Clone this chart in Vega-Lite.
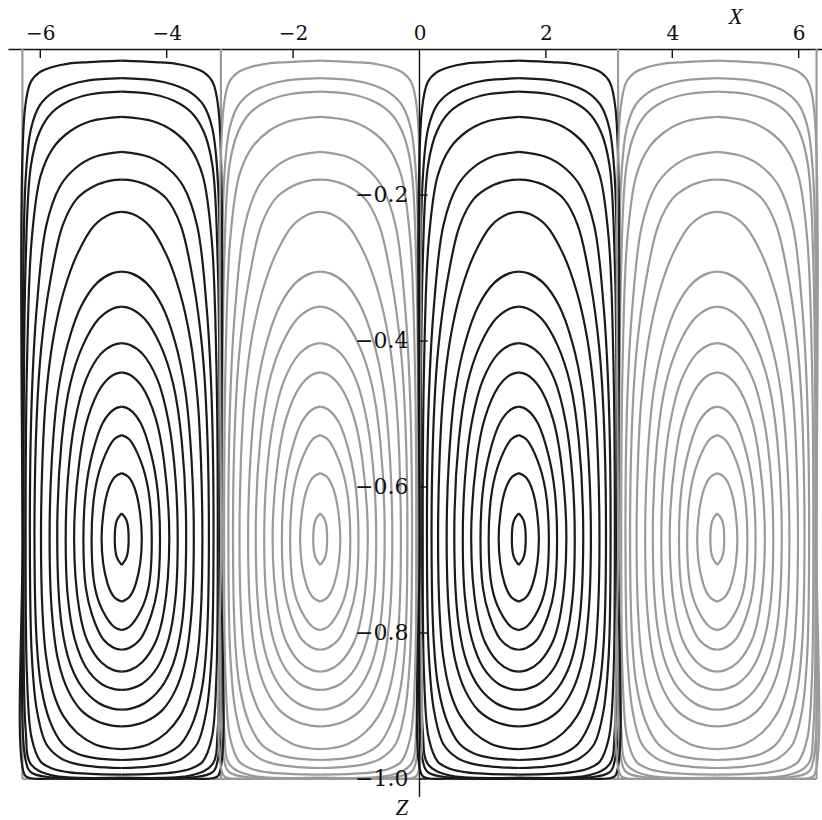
{
"$schema": "https://vega.github.io/schema/vega-lite/v6.json",
"width": 814, "height": 748,
"autosize": {"type": "none"},
"padding": {"left": 8, "top": 49, "right": 0, "bottom": 23},
"config": {"view": {"stroke": null}, "axis": {"grid": false}},
"layer": [
{
"data": {"values": [
{"x":-6.283,"x2":-6.283,"z":0,"z2":-1},
{"x":-3.142,"x2":-3.142,"z":0,"z2":-1},
{"x":3.142,"x2":3.142,"z":0,"z2":-1},
{"x":6.283,"x2":6.283,"z":0,"z2":-1},
{"x":-6.283,"x2":6.283,"z":-1,"z2":-1}
]},
"mark": {"type": "rule", "color": "#9a9a9a", "strokeWidth": 2.2},
"encoding": {
"x": {"field": "x", "type": "quantitative", "scale": {"domain": [-6.511, 6.369], "nice": false, "zero": false}, "title": null},
"x2": {"field": "x2"},
"y": {"field": "z", "type": "quantitative", "scale": {"domain": [-1.0247, 0], "nice": false, "zero": false}, "axis": null, "title": null},
"y2": {"field": "z2"}
}
},
{
"data": {"values": [
{"k":1,"o":0,"z":-0.636,"al":-4.712,"ar":-4.712,"bl":-1.571,"br":-1.571,"cl":1.571,"cr":1.571,"dl":4.712,"dr":4.712},
{"k":1,"o":1,"z":-0.646,"al":-4.79,"ar":-4.634,"bl":-1.649,"br":-1.493,"cl":1.493,"cr":1.649,"dl":4.634,"dr":4.79},
{"k":1,"o":2,"z":-0.671,"al":-4.822,"ar":-4.602,"bl":-1.681,"br":-1.461,"cl":1.461,"cr":1.681,"dl":4.602,"dr":4.822},
{"k":1,"o":3,"z":-0.696,"al":-4.79,"ar":-4.634,"bl":-1.649,"br":-1.493,"cl":1.493,"cr":1.649,"dl":4.634,"dr":4.79},
{"k":1,"o":4,"z":-0.707,"al":-4.712,"ar":-4.712,"bl":-1.571,"br":-1.571,"cl":1.571,"cr":1.571,"dl":4.712,"dr":4.712},

{"k":2,"o":0,"z":-0.581,"al":-4.712,"ar":-4.712,"bl":-1.571,"br":-1.571,"cl":1.571,"cr":1.571,"dl":4.712,"dr":4.712},
{"k":2,"o":0.5,"z":-0.5864,"al":-4.821,"ar":-4.603,"bl":-1.68,"br":-1.462,"cl":1.462,"cr":1.68,"dl":4.603,"dr":4.821},
{"k":2,"o":1,"z":-0.607,"al":-4.937,"ar":-4.487,"bl":-1.796,"br":-1.346,"cl":1.346,"cr":1.796,"dl":4.487,"dr":4.937},
{"k":2,"o":2,"z":-0.671,"al":-5.03,"ar":-4.394,"bl":-1.889,"br":-1.253,"cl":1.253,"cr":1.889,"dl":4.394,"dr":5.03},
{"k":2,"o":3,"z":-0.732,"al":-4.937,"ar":-4.487,"bl":-1.796,"br":-1.346,"cl":1.346,"cr":1.796,"dl":4.487,"dr":4.937},
{"k":2,"o":3.5,"z":-0.7518,"al":-4.821,"ar":-4.603,"bl":-1.68,"br":-1.462,"cl":1.462,"cr":1.68,"dl":4.603,"dr":4.821},
{"k":2,"o":4,"z":-0.757,"al":-4.712,"ar":-4.712,"bl":-1.571,"br":-1.571,"cl":1.571,"cr":1.571,"dl":4.712,"dr":4.712},

{"k":3,"o":0,"z":-0.529,"al":-4.712,"ar":-4.712,"bl":-1.571,"br":-1.571,"cl":1.571,"cr":1.571,"dl":4.712,"dr":4.712},
{"k":3,"o":0.5,"z":-0.5346,"al":-4.831,"ar":-4.593,"bl":-1.69,"br":-1.452,"cl":1.452,"cr":1.69,"dl":4.593,"dr":4.831},
{"k":3,"o":1,"z":-0.564,"al":-5.01,"ar":-4.414,"bl":-1.869,"br":-1.273,"cl":1.273,"cr":1.869,"dl":4.414,"dr":5.01},
{"k":3,"o":2,"z":-0.605,"al":-5.135,"ar":-4.289,"bl":-1.994,"br":-1.148,"cl":1.148,"cr":1.994,"dl":4.289,"dr":5.135},
{"k":3,"o":3,"z":-0.671,"al":-5.188,"ar":-4.236,"bl":-2.047,"br":-1.095,"cl":1.095,"cr":2.047,"dl":4.236,"dr":5.188},
{"k":3,"o":4,"z":-0.738,"al":-5.135,"ar":-4.289,"bl":-1.994,"br":-1.148,"cl":1.148,"cr":1.994,"dl":4.289,"dr":5.135},
{"k":3,"o":5,"z":-0.770,"al":-5.01,"ar":-4.414,"bl":-1.869,"br":-1.273,"cl":1.273,"cr":1.869,"dl":4.414,"dr":5.01},
{"k":3,"o":5.5,"z":-0.7918,"al":-4.831,"ar":-4.593,"bl":-1.69,"br":-1.452,"cl":1.452,"cr":1.69,"dl":4.593,"dr":4.831},
{"k":3,"o":6,"z":-0.796,"al":-4.712,"ar":-4.712,"bl":-1.571,"br":-1.571,"cl":1.571,"cr":1.571,"dl":4.712,"dr":4.712},

{"k":4,"o":0,"z":-0.490,"al":-4.712,"ar":-4.712,"bl":-1.571,"br":-1.571,"cl":1.571,"cr":1.571,"dl":4.712,"dr":4.712},
{"k":4,"o":0.5,"z":-0.4935,"al":-4.831,"ar":-4.593,"bl":-1.69,"br":-1.452,"cl":1.452,"cr":1.69,"dl":4.593,"dr":4.831},
{"k":4,"o":1,"z":-0.512,"al":-5.01,"ar":-4.414,"bl":-1.869,"br":-1.273,"cl":1.273,"cr":1.869,"dl":4.414,"dr":5.01},
{"k":4,"o":2,"z":-0.555,"al":-5.178,"ar":-4.246,"bl":-2.037,"br":-1.105,"cl":1.105,"cr":2.037,"dl":4.246,"dr":5.178},
{"k":4,"o":3,"z":-0.605,"al":-5.28,"ar":-4.144,"bl":-2.139,"br":-1.003,"cl":1.003,"cr":2.139,"dl":4.144,"dr":5.28},
{"k":4,"o":4,"z":-0.671,"al":-5.318,"ar":-4.106,"bl":-2.177,"br":-0.965,"cl":0.965,"cr":2.177,"dl":4.106,"dr":5.318},
{"k":4,"o":5,"z":-0.738,"al":-5.28,"ar":-4.144,"bl":-2.139,"br":-1.003,"cl":1.003,"cr":2.139,"dl":4.144,"dr":5.28},
{"k":4,"o":6,"z":-0.776,"al":-5.178,"ar":-4.246,"bl":-2.037,"br":-1.105,"cl":1.105,"cr":2.037,"dl":4.246,"dr":5.178},
{"k":4,"o":7,"z":-0.808,"al":-5.01,"ar":-4.414,"bl":-1.869,"br":-1.273,"cl":1.273,"cr":1.869,"dl":4.414,"dr":5.01},
{"k":4,"o":7.5,"z":-0.8206,"al":-4.831,"ar":-4.593,"bl":-1.69,"br":-1.452,"cl":1.452,"cr":1.69,"dl":4.593,"dr":4.831},
{"k":4,"o":8,"z":-0.823,"al":-4.712,"ar":-4.712,"bl":-1.571,"br":-1.571,"cl":1.571,"cr":1.571,"dl":4.712,"dr":4.712},

{"k":5,"o":0,"z":-0.443,"al":-4.712,"ar":-4.712,"bl":-1.571,"br":-1.571,"cl":1.571,"cr":1.571,"dl":4.712,"dr":4.712},
{"k":5,"o":0.5,"z":-0.4462,"al":-4.842,"ar":-4.582,"bl":-1.701,"br":-1.441,"cl":1.441,"cr":1.701,"dl":4.582,"dr":4.842},
{"k":5,"o":1,"z":-0.463,"al":-5.036,"ar":-4.388,"bl":-1.895,"br":-1.247,"cl":1.247,"cr":1.895,"dl":4.388,"dr":5.036},
{"k":5,"o":2,"z":-0.506,"al":-5.25,"ar":-4.174,"bl":-2.109,"br":-1.033,"cl":1.033,"cr":2.109,"dl":4.174,"dr":5.25},
{"k":5,"o":3,"z":-0.564,"al":-5.38,"ar":-4.044,"bl":-2.239,"br":-0.903,"cl":0.903,"cr":2.239,"dl":4.044,"dr":5.38},
{"k":5,"o":4,"z":-0.671,"al":-5.465,"ar":-3.959,"bl":-2.324,"br":-0.818,"cl":0.818,"cr":2.324,"dl":3.959,"dr":5.465},
{"k":5,"o":5,"z":-0.770,"al":-5.38,"ar":-4.044,"bl":-2.239,"br":-0.903,"cl":0.903,"cr":2.239,"dl":4.044,"dr":5.38},
{"k":5,"o":6,"z":-0.812,"al":-5.25,"ar":-4.174,"bl":-2.109,"br":-1.033,"cl":1.033,"cr":2.109,"dl":4.174,"dr":5.25},
{"k":5,"o":7,"z":-0.840,"al":-5.036,"ar":-4.388,"bl":-1.895,"br":-1.247,"cl":1.247,"cr":1.895,"dl":4.388,"dr":5.036},
{"k":5,"o":7.5,"z":-0.8509,"al":-4.842,"ar":-4.582,"bl":-1.701,"br":-1.441,"cl":1.441,"cr":1.701,"dl":4.582,"dr":4.842},
{"k":5,"o":8,"z":-0.853,"al":-4.712,"ar":-4.712,"bl":-1.571,"br":-1.571,"cl":1.571,"cr":1.571,"dl":4.712,"dr":4.712},

{"k":6,"o":0,"z":-0.403,"al":-4.712,"ar":-4.712,"bl":-1.571,"br":-1.571,"cl":1.571,"cr":1.571,"dl":4.712,"dr":4.712},
{"k":6,"o":0.5,"z":-0.4054,"al":-4.846,"ar":-4.578,"bl":-1.705,"br":-1.437,"cl":1.437,"cr":1.705,"dl":4.578,"dr":4.846},
{"k":6,"o":1,"z":-0.418,"al":-5.046,"ar":-4.378,"bl":-1.905,"br":-1.237,"cl":1.237,"cr":1.905,"dl":4.378,"dr":5.046},
{"k":6,"o":2,"z":-0.453,"al":-5.278,"ar":-4.146,"bl":-2.137,"br":-1.005,"cl":1.005,"cr":2.137,"dl":4.146,"dr":5.278},
{"k":6,"o":3,"z":-0.512,"al":-5.457,"ar":-3.967,"bl":-2.316,"br":-0.826,"cl":0.826,"cr":2.316,"dl":3.967,"dr":5.457},
{"k":6,"o":4,"z":-0.588,"al":-5.563,"ar":-3.861,"bl":-2.422,"br":-0.72,"cl":0.72,"cr":2.422,"dl":3.861,"dr":5.563},
{"k":6,"o":5,"z":-0.671,"al":-5.598,"ar":-3.826,"bl":-2.457,"br":-0.685,"cl":0.685,"cr":2.457,"dl":3.826,"dr":5.598},
{"k":6,"o":6,"z":-0.752,"al":-5.563,"ar":-3.861,"bl":-2.422,"br":-0.72,"cl":0.72,"cr":2.422,"dl":3.861,"dr":5.563},
{"k":6,"o":7,"z":-0.808,"al":-5.457,"ar":-3.967,"bl":-2.316,"br":-0.826,"cl":0.826,"cr":2.316,"dl":3.967,"dr":5.457},
{"k":6,"o":8,"z":-0.847,"al":-5.278,"ar":-4.146,"bl":-2.137,"br":-1.005,"cl":1.005,"cr":2.137,"dl":4.146,"dr":5.278},
{"k":6,"o":9,"z":-0.869,"al":-5.046,"ar":-4.378,"bl":-1.905,"br":-1.237,"cl":1.237,"cr":1.905,"dl":4.378,"dr":5.046},
{"k":6,"o":9.5,"z":-0.8766,"al":-4.846,"ar":-4.578,"bl":-1.705,"br":-1.437,"cl":1.437,"cr":1.705,"dl":4.578,"dr":4.846},
{"k":6,"o":10,"z":-0.878,"al":-4.712,"ar":-4.712,"bl":-1.571,"br":-1.571,"cl":1.571,"cr":1.571,"dl":4.712,"dr":4.712},

{"k":7,"o":0,"z":-0.353,"al":-4.712,"ar":-4.712,"bl":-1.571,"br":-1.571,"cl":1.571,"cr":1.571,"dl":4.712,"dr":4.712},
{"k":7,"o":0.5,"z":-0.3557,"al":-4.858,"ar":-4.566,"bl":-1.717,"br":-1.425,"cl":1.425,"cr":1.717,"dl":4.566,"dr":4.858},
{"k":7,"o":1,"z":-0.370,"al":-5.078,"ar":-4.346,"bl":-1.937,"br":-1.205,"cl":1.205,"cr":1.937,"dl":4.346,"dr":5.078},
{"k":7,"o":2,"z":-0.406,"al":-5.326,"ar":-4.098,"bl":-2.185,"br":-0.957,"cl":0.957,"cr":2.185,"dl":4.098,"dr":5.326},
{"k":7,"o":3,"z":-0.458,"al":-5.524,"ar":-3.9,"bl":-2.383,"br":-0.759,"cl":0.759,"cr":2.383,"dl":3.9,"dr":5.524},
{"k":7,"o":4,"z":-0.538,"al":-5.663,"ar":-3.761,"bl":-2.522,"br":-0.62,"cl":0.62,"cr":2.522,"dl":3.761,"dr":5.663},
{"k":7,"o":5,"z":-0.671,"al":-5.732,"ar":-3.692,"bl":-2.591,"br":-0.551,"cl":0.551,"cr":2.591,"dl":3.692,"dr":5.732},
{"k":7,"o":6,"z":-0.789,"al":-5.663,"ar":-3.761,"bl":-2.522,"br":-0.62,"cl":0.62,"cr":2.522,"dl":3.761,"dr":5.663},
{"k":7,"o":7,"z":-0.843,"al":-5.524,"ar":-3.9,"bl":-2.383,"br":-0.759,"cl":0.759,"cr":2.383,"dl":3.9,"dr":5.524},
{"k":7,"o":8,"z":-0.876,"al":-5.326,"ar":-4.098,"bl":-2.185,"br":-0.957,"cl":0.957,"cr":2.185,"dl":4.098,"dr":5.326},
{"k":7,"o":9,"z":-0.896,"al":-5.078,"ar":-4.346,"bl":-1.937,"br":-1.205,"cl":1.205,"cr":1.937,"dl":4.346,"dr":5.078},
{"k":7,"o":9.5,"z":-0.9036,"al":-4.858,"ar":-4.566,"bl":-1.717,"br":-1.425,"cl":1.425,"cr":1.717,"dl":4.566,"dr":4.858},
{"k":7,"o":10,"z":-0.905,"al":-4.712,"ar":-4.712,"bl":-1.571,"br":-1.571,"cl":1.571,"cr":1.571,"dl":4.712,"dr":4.712},

{"k":8,"o":0,"z":-0.305,"al":-4.712,"ar":-4.712,"bl":-1.571,"br":-1.571,"cl":1.571,"cr":1.571,"dl":4.712,"dr":4.712},
{"k":8,"o":0.5,"z":-0.3074,"al":-4.866,"ar":-4.558,"bl":-1.725,"br":-1.417,"cl":1.417,"cr":1.725,"dl":4.558,"dr":4.866},
{"k":8,"o":1,"z":-0.320,"al":-5.097,"ar":-4.327,"bl":-1.956,"br":-1.186,"cl":1.186,"cr":1.956,"dl":4.327,"dr":5.097},
{"k":8,"o":2,"z":-0.352,"al":-5.352,"ar":-4.072,"bl":-2.211,"br":-0.931,"cl":0.931,"cr":2.211,"dl":4.072,"dr":5.352},
{"k":8,"o":3,"z":-0.402,"al":-5.559,"ar":-3.865,"bl":-2.418,"br":-0.724,"cl":0.724,"cr":2.418,"dl":3.865,"dr":5.559},
{"k":8,"o":4,"z":-0.469,"al":-5.719,"ar":-3.705,"bl":-2.578,"br":-0.564,"cl":0.564,"cr":2.578,"dl":3.705,"dr":5.719},
{"k":8,"o":5,"z":-0.564,"al":-5.818,"ar":-3.606,"bl":-2.677,"br":-0.465,"cl":0.465,"cr":2.677,"dl":3.606,"dr":5.818},
{"k":8,"o":6,"z":-0.671,"al":-5.853,"ar":-3.571,"bl":-2.712,"br":-0.43,"cl":0.43,"cr":2.712,"dl":3.571,"dr":5.853},
{"k":8,"o":7,"z":-0.770,"al":-5.818,"ar":-3.606,"bl":-2.677,"br":-0.465,"cl":0.465,"cr":2.677,"dl":3.606,"dr":5.818},
{"k":8,"o":8,"z":-0.837,"al":-5.719,"ar":-3.705,"bl":-2.578,"br":-0.564,"cl":0.564,"cr":2.578,"dl":3.705,"dr":5.719},
{"k":8,"o":9,"z":-0.879,"al":-5.559,"ar":-3.865,"bl":-2.418,"br":-0.724,"cl":0.724,"cr":2.418,"dl":3.865,"dr":5.559},
{"k":8,"o":10,"z":-0.906,"al":-5.352,"ar":-4.072,"bl":-2.211,"br":-0.931,"cl":0.931,"cr":2.211,"dl":4.072,"dr":5.352},
{"k":8,"o":11,"z":-0.921,"al":-5.097,"ar":-4.327,"bl":-1.956,"br":-1.186,"cl":1.186,"cr":1.956,"dl":4.327,"dr":5.097},
{"k":8,"o":11.5,"z":-0.9269,"al":-4.866,"ar":-4.558,"bl":-1.725,"br":-1.417,"cl":1.417,"cr":1.725,"dl":4.558,"dr":4.866},
{"k":8,"o":12,"z":-0.928,"al":-4.712,"ar":-4.712,"bl":-1.571,"br":-1.571,"cl":1.571,"cr":1.571,"dl":4.712,"dr":4.712},

{"k":9,"o":0,"z":-0.223,"al":-4.712,"ar":-4.712,"bl":-1.571,"br":-1.571,"cl":1.571,"cr":1.571,"dl":4.712,"dr":4.712},
{"k":9,"o":0.5,"z":-0.226,"al":-4.887,"ar":-4.537,"bl":-1.746,"br":-1.396,"cl":1.396,"cr":1.746,"dl":4.537,"dr":4.887},
{"k":9,"o":1,"z":-0.242,"al":-5.149,"ar":-4.275,"bl":-2.008,"br":-1.134,"cl":1.134,"cr":2.008,"dl":4.275,"dr":5.149},
{"k":9,"o":2,"z":-0.281,"al":-5.415,"ar":-4.009,"bl":-2.274,"br":-0.868,"cl":0.868,"cr":2.274,"dl":4.009,"dr":5.415},
{"k":9,"o":3,"z":-0.334,"al":-5.634,"ar":-3.79,"bl":-2.493,"br":-0.649,"cl":0.649,"cr":2.493,"dl":3.79,"dr":5.634},
{"k":9,"o":4,"z":-0.397,"al":-5.796,"ar":-3.628,"bl":-2.655,"br":-0.487,"cl":0.487,"cr":2.655,"dl":3.628,"dr":5.796},
{"k":9,"o":5,"z":-0.479,"al":-5.912,"ar":-3.512,"bl":-2.771,"br":-0.371,"cl":0.371,"cr":2.771,"dl":3.512,"dr":5.912},
{"k":9,"o":6,"z":-0.564,"al":-5.966,"ar":-3.458,"bl":-2.825,"br":-0.317,"cl":0.317,"cr":2.825,"dl":3.458,"dr":5.966},
{"k":9,"o":7,"z":-0.671,"al":-5.989,"ar":-3.435,"bl":-2.848,"br":-0.294,"cl":0.294,"cr":2.848,"dl":3.435,"dr":5.989},
{"k":9,"o":8,"z":-0.770,"al":-5.966,"ar":-3.458,"bl":-2.825,"br":-0.317,"cl":0.317,"cr":2.825,"dl":3.458,"dr":5.966},
{"k":9,"o":9,"z":-0.830,"al":-5.912,"ar":-3.512,"bl":-2.771,"br":-0.371,"cl":0.371,"cr":2.771,"dl":3.512,"dr":5.912},
{"k":9,"o":10,"z":-0.881,"al":-5.796,"ar":-3.628,"bl":-2.655,"br":-0.487,"cl":0.487,"cr":2.655,"dl":3.628,"dr":5.796},
{"k":9,"o":11,"z":-0.914,"al":-5.634,"ar":-3.79,"bl":-2.493,"br":-0.649,"cl":0.649,"cr":2.493,"dl":3.79,"dr":5.634},
{"k":9,"o":12,"z":-0.937,"al":-5.415,"ar":-4.009,"bl":-2.274,"br":-0.868,"cl":0.868,"cr":2.274,"dl":4.009,"dr":5.415},
{"k":9,"o":13,"z":-0.952,"al":-5.149,"ar":-4.275,"bl":-2.008,"br":-1.134,"cl":1.134,"cr":2.008,"dl":4.275,"dr":5.149},
{"k":9,"o":13.5,"z":-0.9579,"al":-4.887,"ar":-4.537,"bl":-1.746,"br":-1.396,"cl":1.396,"cr":1.746,"dl":4.537,"dr":4.887},
{"k":9,"o":14,"z":-0.959,"al":-4.712,"ar":-4.712,"bl":-1.571,"br":-1.571,"cl":1.571,"cr":1.571,"dl":4.712,"dr":4.712},

{"k":10,"o":0,"z":-0.179,"al":-4.712,"ar":-4.712,"bl":-1.571,"br":-1.571,"cl":1.571,"cr":1.571,"dl":4.712,"dr":4.712},
{"k":10,"o":0.5,"z":-0.1804,"al":-4.888,"ar":-4.536,"bl":-1.747,"br":-1.395,"cl":1.395,"cr":1.747,"dl":4.536,"dr":4.888},
{"k":10,"o":1,"z":-0.188,"al":-5.152,"ar":-4.272,"bl":-2.011,"br":-1.131,"cl":1.131,"cr":2.011,"dl":4.272,"dr":5.152},
{"k":10,"o":2,"z":-0.205,"al":-5.42,"ar":-4.004,"bl":-2.279,"br":-0.863,"cl":0.863,"cr":2.279,"dl":4.004,"dr":5.42},
{"k":10,"o":3,"z":-0.242,"al":-5.647,"ar":-3.777,"bl":-2.506,"br":-0.636,"cl":0.636,"cr":2.506,"dl":3.777,"dr":5.647},
{"k":10,"o":4,"z":-0.320,"al":-5.847,"ar":-3.577,"bl":-2.706,"br":-0.436,"cl":0.436,"cr":2.706,"dl":3.577,"dr":5.847},
{"k":10,"o":5,"z":-0.410,"al":-5.986,"ar":-3.438,"bl":-2.845,"br":-0.297,"cl":0.297,"cr":2.845,"dl":3.438,"dr":5.986},
{"k":10,"o":6,"z":-0.506,"al":-6.057,"ar":-3.367,"bl":-2.916,"br":-0.226,"cl":0.226,"cr":2.916,"dl":3.367,"dr":6.057},
{"k":10,"o":7,"z":-0.671,"al":-6.092,"ar":-3.332,"bl":-2.951,"br":-0.191,"cl":0.191,"cr":2.951,"dl":3.332,"dr":6.092},
{"k":10,"o":8,"z":-0.812,"al":-6.057,"ar":-3.367,"bl":-2.916,"br":-0.226,"cl":0.226,"cr":2.916,"dl":3.367,"dr":6.057},
{"k":10,"o":9,"z":-0.874,"al":-5.986,"ar":-3.438,"bl":-2.845,"br":-0.297,"cl":0.297,"cr":2.845,"dl":3.438,"dr":5.986},
{"k":10,"o":10,"z":-0.921,"al":-5.847,"ar":-3.577,"bl":-2.706,"br":-0.436,"cl":0.436,"cr":2.706,"dl":3.577,"dr":5.847},
{"k":10,"o":11,"z":-0.952,"al":-5.647,"ar":-3.777,"bl":-2.506,"br":-0.636,"cl":0.636,"cr":2.506,"dl":3.777,"dr":5.647},
{"k":10,"o":12,"z":-0.965,"al":-5.42,"ar":-4.004,"bl":-2.279,"br":-0.863,"cl":0.863,"cr":2.279,"dl":4.004,"dr":5.42},
{"k":10,"o":13,"z":-0.971,"al":-5.152,"ar":-4.272,"bl":-2.011,"br":-1.131,"cl":1.131,"cr":2.011,"dl":4.272,"dr":5.152},
{"k":10,"o":14,"z":-0.974,"al":-4.712,"ar":-4.712,"bl":-1.571,"br":-1.571,"cl":1.571,"cr":1.571,"dl":4.712,"dr":4.712},

{"k":11,"o":0,"z":-0.141,"al":-4.712,"ar":-4.712,"bl":-1.571,"br":-1.571,"cl":1.571,"cr":1.571,"dl":4.712,"dr":4.712},
{"k":11,"o":1,"z":-0.148,"al":-5.147,"ar":-4.277,"bl":-2.006,"br":-1.136,"cl":1.136,"cr":2.006,"dl":4.277,"dr":5.147},
{"k":11,"o":2,"z":-0.164,"al":-5.454,"ar":-3.97,"bl":-2.313,"br":-0.829,"cl":0.829,"cr":2.313,"dl":3.97,"dr":5.454},
{"k":11,"o":3,"z":-0.188,"al":-5.687,"ar":-3.737,"bl":-2.546,"br":-0.596,"cl":0.596,"cr":2.546,"dl":3.737,"dr":5.687},
{"k":11,"o":4,"z":-0.242,"al":-5.906,"ar":-3.518,"bl":-2.765,"br":-0.377,"cl":0.377,"cr":2.765,"dl":3.518,"dr":5.906},
{"k":11,"o":5,"z":-0.352,"al":-6.054,"ar":-3.37,"bl":-2.913,"br":-0.229,"cl":0.229,"cr":2.913,"dl":3.37,"dr":6.054},
{"k":11,"o":6,"z":-0.479,"al":-6.135,"ar":-3.289,"bl":-2.994,"br":-0.148,"cl":0.148,"cr":2.994,"dl":3.289,"dr":6.135},
{"k":11,"o":7,"z":-0.671,"al":-6.165,"ar":-3.259,"bl":-3.024,"br":-0.118,"cl":0.118,"cr":3.024,"dl":3.259,"dr":6.165},
{"k":11,"o":8,"z":-0.830,"al":-6.135,"ar":-3.289,"bl":-2.994,"br":-0.148,"cl":0.148,"cr":2.994,"dl":3.289,"dr":6.135},
{"k":11,"o":9,"z":-0.906,"al":-6.054,"ar":-3.37,"bl":-2.913,"br":-0.229,"cl":0.229,"cr":2.913,"dl":3.37,"dr":6.054},
{"k":11,"o":10,"z":-0.952,"al":-5.906,"ar":-3.518,"bl":-2.765,"br":-0.377,"cl":0.377,"cr":2.765,"dl":3.518,"dr":5.906},
{"k":11,"o":11,"z":-0.971,"al":-5.687,"ar":-3.737,"bl":-2.546,"br":-0.596,"cl":0.596,"cr":2.546,"dl":3.737,"dr":5.687},
{"k":11,"o":12,"z":-0.979,"al":-5.454,"ar":-3.97,"bl":-2.313,"br":-0.829,"cl":0.829,"cr":2.313,"dl":3.97,"dr":5.454},
{"k":11,"o":13,"z":-0.983,"al":-5.147,"ar":-4.277,"bl":-2.006,"br":-1.136,"cl":1.136,"cr":2.006,"dl":4.277,"dr":5.147},
{"k":11,"o":14,"z":-0.985,"al":-4.712,"ar":-4.712,"bl":-1.571,"br":-1.571,"cl":1.571,"cr":1.571,"dl":4.712,"dr":4.712},

{"k":12,"o":0,"z":-0.093,"al":-4.712,"ar":-4.712,"bl":-1.571,"br":-1.571,"cl":1.571,"cr":1.571,"dl":4.712,"dr":4.712},
{"k":12,"o":1,"z":-0.099,"al":-5.208,"ar":-4.216,"bl":-2.067,"br":-1.075,"cl":1.075,"cr":2.067,"dl":4.216,"dr":5.208},
{"k":12,"o":2,"z":-0.113,"al":-5.535,"ar":-3.889,"bl":-2.394,"br":-0.748,"cl":0.748,"cr":2.394,"dl":3.889,"dr":5.535},
{"k":12,"o":3,"z":-0.136,"al":-5.801,"ar":-3.623,"bl":-2.66,"br":-0.482,"cl":0.482,"cr":2.66,"dl":3.623,"dr":5.801},
{"k":12,"o":4,"z":-0.174,"al":-5.996,"ar":-3.428,"bl":-2.855,"br":-0.287,"cl":0.287,"cr":2.855,"dl":3.428,"dr":5.996},
{"k":12,"o":5,"z":-0.262,"al":-6.137,"ar":-3.287,"bl":-2.996,"br":-0.146,"cl":0.146,"cr":2.996,"dl":3.287,"dr":6.137},
{"k":12,"o":6,"z":-0.431,"al":-6.21,"ar":-3.214,"bl":-3.069,"br":-0.073,"cl":0.073,"cr":3.069,"dl":3.214,"dr":6.21},
{"k":12,"o":7,"z":-0.671,"al":-6.232,"ar":-3.192,"bl":-3.091,"br":-0.051,"cl":0.051,"cr":3.091,"dl":3.192,"dr":6.232},
{"k":12,"o":8,"z":-0.861,"al":-6.21,"ar":-3.214,"bl":-3.069,"br":-0.073,"cl":0.073,"cr":3.069,"dl":3.214,"dr":6.21},
{"k":12,"o":9,"z":-0.944,"al":-6.137,"ar":-3.287,"bl":-2.996,"br":-0.146,"cl":0.146,"cr":2.996,"dl":3.287,"dr":6.137},
{"k":12,"o":10,"z":-0.976,"al":-5.996,"ar":-3.428,"bl":-2.855,"br":-0.287,"cl":0.287,"cr":2.855,"dl":3.428,"dr":5.996},
{"k":12,"o":11,"z":-0.986,"al":-5.801,"ar":-3.623,"bl":-2.66,"br":-0.482,"cl":0.482,"cr":2.66,"dl":3.623,"dr":5.801},
{"k":12,"o":12,"z":-0.991,"al":-5.535,"ar":-3.889,"bl":-2.394,"br":-0.748,"cl":0.748,"cr":2.394,"dl":3.889,"dr":5.535},
{"k":12,"o":13,"z":-0.993,"al":-5.208,"ar":-4.216,"bl":-2.067,"br":-1.075,"cl":1.075,"cr":2.067,"dl":4.216,"dr":5.208},
{"k":12,"o":14,"z":-0.994,"al":-4.712,"ar":-4.712,"bl":-1.571,"br":-1.571,"cl":1.571,"cr":1.571,"dl":4.712,"dr":4.712},

{"k":13,"o":0,"z":-0.0585,"al":-4.712,"ar":-4.712,"bl":-1.571,"br":-1.571,"cl":1.571,"cr":1.571,"dl":4.712,"dr":4.712},
{"k":13,"o":1,"z":-0.062,"al":-5.201,"ar":-4.223,"bl":-2.06,"br":-1.082,"cl":1.082,"cr":2.06,"dl":4.223,"dr":5.201},
{"k":13,"o":2,"z":-0.071,"al":-5.539,"ar":-3.885,"bl":-2.398,"br":-0.744,"cl":0.744,"cr":2.398,"dl":3.885,"dr":5.539},
{"k":13,"o":3,"z":-0.087,"al":-5.815,"ar":-3.609,"bl":-2.674,"br":-0.468,"cl":0.468,"cr":2.674,"dl":3.609,"dr":5.815},
{"k":13,"o":4,"z":-0.113,"al":-6.009,"ar":-3.415,"bl":-2.868,"br":-0.274,"cl":0.274,"cr":2.868,"dl":3.415,"dr":6.009},
{"k":13,"o":5,"z":-0.159,"al":-6.147,"ar":-3.277,"bl":-3.006,"br":-0.136,"cl":0.136,"cr":3.006,"dl":3.277,"dr":6.147},
{"k":13,"o":6,"z":-0.294,"al":-6.232,"ar":-3.192,"bl":-3.091,"br":-0.051,"cl":0.051,"cr":3.091,"dl":3.192,"dr":6.232},
{"k":13,"o":7,"z":-0.671,"al":-6.263,"ar":-3.161,"bl":-3.122,"br":-0.02,"cl":0.02,"cr":3.122,"dl":3.161,"dr":6.263},
{"k":13,"o":8,"z":-0.932,"al":-6.232,"ar":-3.192,"bl":-3.091,"br":-0.051,"cl":0.051,"cr":3.091,"dl":3.192,"dr":6.232},
{"k":13,"o":9,"z":-0.980,"al":-6.147,"ar":-3.277,"bl":-3.006,"br":-0.136,"cl":0.136,"cr":3.006,"dl":3.277,"dr":6.147},
{"k":13,"o":10,"z":-0.995,"al":-5.815,"ar":-3.609,"bl":-2.674,"br":-0.468,"cl":0.468,"cr":2.674,"dl":3.609,"dr":5.815},
{"k":13,"o":11,"z":-0.998,"al":-4.712,"ar":-4.712,"bl":-1.571,"br":-1.571,"cl":1.571,"cr":1.571,"dl":4.712,"dr":4.712},

{"k":14,"o":0,"z":-0.040,"al":-4.712,"ar":-4.712,"bl":-1.571,"br":-1.571,"cl":1.571,"cr":1.571,"dl":4.712,"dr":4.712},
{"k":14,"o":1,"z":-0.043,"al":-5.233,"ar":-4.191,"bl":-2.092,"br":-1.05,"cl":1.05,"cr":2.092,"dl":4.191,"dr":5.233},
{"k":14,"o":2,"z":-0.049,"al":-5.533,"ar":-3.891,"bl":-2.392,"br":-0.75,"cl":0.75,"cr":2.392,"dl":3.891,"dr":5.533},
{"k":14,"o":3,"z":-0.060,"al":-5.811,"ar":-3.613,"bl":-2.67,"br":-0.472,"cl":0.472,"cr":2.67,"dl":3.613,"dr":5.811},
{"k":14,"o":4,"z":-0.077,"al":-6.007,"ar":-3.417,"bl":-2.866,"br":-0.276,"cl":0.276,"cr":2.866,"dl":3.417,"dr":6.007},
{"k":14,"o":5,"z":-0.109,"al":-6.146,"ar":-3.278,"bl":-3.005,"br":-0.137,"cl":0.137,"cr":3.005,"dl":3.278,"dr":6.146},
{"k":14,"o":6,"z":-0.183,"al":-6.235,"ar":-3.189,"bl":-3.094,"br":-0.048,"cl":0.048,"cr":3.094,"dl":3.189,"dr":6.235},
{"k":14,"o":7,"z":-0.671,"al":-6.273,"ar":-3.151,"bl":-3.132,"br":-0.01,"cl":0.01,"cr":3.132,"dl":3.151,"dr":6.273},
{"k":14,"o":8,"z":-0.973,"al":-6.235,"ar":-3.189,"bl":-3.094,"br":-0.048,"cl":0.048,"cr":3.094,"dl":3.189,"dr":6.235},
{"k":14,"o":9,"z":-0.991,"al":-6.146,"ar":-3.278,"bl":-3.005,"br":-0.137,"cl":0.137,"cr":3.005,"dl":3.278,"dr":6.146},
{"k":14,"o":10,"z":-0.998,"al":-5.811,"ar":-3.613,"bl":-2.67,"br":-0.472,"cl":0.472,"cr":2.67,"dl":3.613,"dr":5.811},
{"k":14,"o":11,"z":-0.999,"al":-4.712,"ar":-4.712,"bl":-1.571,"br":-1.571,"cl":1.571,"cr":1.571,"dl":4.712,"dr":4.712},

{"k":15,"o":0,"z":-0.016,"al":-4.712,"ar":-4.712,"bl":-1.571,"br":-1.571,"cl":1.571,"cr":1.571,"dl":4.712,"dr":4.712},
{"k":15,"o":1,"z":-0.018,"al":-5.238,"ar":-4.186,"bl":-2.097,"br":-1.045,"cl":1.045,"cr":2.097,"dl":4.186,"dr":5.238},
{"k":15,"o":2,"z":-0.020,"al":-5.553,"ar":-3.871,"bl":-2.412,"br":-0.73,"cl":0.73,"cr":2.412,"dl":3.871,"dr":5.553},
{"k":15,"o":3,"z":-0.025,"al":-5.822,"ar":-3.602,"bl":-2.681,"br":-0.461,"cl":0.461,"cr":2.681,"dl":3.602,"dr":5.822},
{"k":15,"o":4,"z":-0.032,"al":-6.013,"ar":-3.411,"bl":-2.872,"br":-0.27,"cl":0.27,"cr":2.872,"dl":3.411,"dr":6.013},
{"k":15,"o":5,"z":-0.045,"al":-6.149,"ar":-3.275,"bl":-3.008,"br":-0.134,"cl":0.134,"cr":3.008,"dl":3.275,"dr":6.149},
{"k":15,"o":6,"z":-0.082,"al":-6.243,"ar":-3.181,"bl":-3.102,"br":-0.04,"cl":0.04,"cr":3.102,"dl":3.181,"dr":6.243},
{"k":15,"o":7,"z":-0.671,"al":-6.281,"ar":-3.143,"bl":-3.14,"br":-0.002,"cl":0.002,"cr":3.14,"dl":3.143,"dr":6.281},
{"k":15,"o":8,"z":-0.995,"al":-6.243,"ar":-3.181,"bl":-3.102,"br":-0.04,"cl":0.04,"cr":3.102,"dl":3.181,"dr":6.243},
{"k":15,"o":9,"z":-0.999,"al":-6.149,"ar":-3.275,"bl":-3.008,"br":-0.134,"cl":0.134,"cr":3.008,"dl":3.275,"dr":6.149},
{"k":15,"o":10,"z":-0.9997,"al":-5.822,"ar":-3.602,"bl":-2.681,"br":-0.461,"cl":0.461,"cr":2.681,"dl":3.602,"dr":5.822},
{"k":15,"o":11,"z":-0.9999,"al":-4.712,"ar":-4.712,"bl":-1.571,"br":-1.571,"cl":1.571,"cr":1.571,"dl":4.712,"dr":4.712}
]},
"transform": [{"fold": ["al","ar","bl","br","cl","cr","dl","dr"], "as": ["s","x"]}],
"mark": {"type": "line", "interpolate": "catmull-rom", "strokeWidth": 2.2},
"encoding": {
"x": {"field": "x", "type": "quantitative", "scale": {"domain": [-6.511, 6.369], "nice": false, "zero": false}, "title": null,
 "axis": {"orient": "top", "values": [-6,-4,-2,0,2,4,6], "format": "d", "ticks": false, "labelPadding": 6, "labelFont": "DejaVu Serif", "labelFontSize": 20, "labelColor": "#111111", "domainColor": "#111111", "domainWidth": 1.3, "labelFlush": false, "labelOverlap": false, "grid": false}},
"y": {"field": "z", "type": "quantitative", "scale": {"domain": [-1.0247, 0], "nice": false, "zero": false}, "axis": null, "title": null},
"color": {"field": "s", "type": "nominal", "legend": null, "scale": {"domain": ["al","ar","bl","br","cl","cr","dl","dr"], "range": ["#1a1a1a","#1a1a1a","#9a9a9a","#9a9a9a","#1a1a1a","#1a1a1a","#9a9a9a","#9a9a9a"]}},
"detail": {"field": "k", "type": "nominal"},
"order": {"field": "o", "type": "quantitative"}
}
},
{
"data": {"values": [
{"x":0,"x2":0,"z":0,"z2":-1.0247},
{"x":0,"x2":0.13,"z":-0.2,"z2":-0.2},
{"x":0,"x2":0.13,"z":-0.4,"z2":-0.4},
{"x":0,"x2":0.13,"z":-0.6,"z2":-0.6},
{"x":0,"x2":0.13,"z":-0.8,"z2":-0.8},
{"x":0,"x2":0.13,"z":-1.0,"z2":-1.0},
{"x":-6,"x2":-6,"z":0,"z2":-0.0123},
{"x":-4,"x2":-4,"z":0,"z2":-0.0123},
{"x":-2,"x2":-2,"z":0,"z2":-0.0123},
{"x":2,"x2":2,"z":0,"z2":-0.0123},
{"x":4,"x2":4,"z":0,"z2":-0.0123},
{"x":6,"x2":6,"z":0,"z2":-0.0123}
]},
"mark": {"type": "rule", "color": "#111111", "strokeWidth": 1.4},
"encoding": {
"x": {"field": "x", "type": "quantitative", "title": null},
"x2": {"field": "x2"},
"y": {"field": "z", "type": "quantitative", "axis": null, "title": null},
"y2": {"field": "z2"}
}
},
{
"data": {"values": [
{"x":0,"z":-0.2,"t":"−0.2"},
{"x":0,"z":-0.4,"t":"−0.4"},
{"x":0,"z":-0.6,"t":"−0.6"},
{"x":0,"z":-0.8,"t":"−0.8"},
{"x":0,"z":-1.0,"t":"−1.0"}
]},
"mark": {"type": "text", "align": "right", "baseline": "middle", "dx": -11, "font": "DejaVu Serif", "fontSize": 22, "color": "#111111"},
"encoding": {
"x": {"field": "x", "type": "quantitative", "title": null},
"y": {"field": "z", "type": "quantitative", "axis": null, "title": null},
"text": {"field": "t"}
}
},
{
"data": {"values": [
{"x":5.0,"z":0.0432,"t":"X"},
{"x":-0.277,"z":-1.0397,"t":"Z"}
]},
"mark": {"type": "text", "align": "center", "baseline": "middle", "font": "Liberation Serif", "fontSize": 23, "fontStyle": "italic", "color": "#111111"},
"encoding": {
"x": {"field": "x", "type": "quantitative", "title": null},
"y": {"field": "z", "type": "quantitative", "axis": null, "title": null},
"text": {"field": "t"}
}
}
]
}
